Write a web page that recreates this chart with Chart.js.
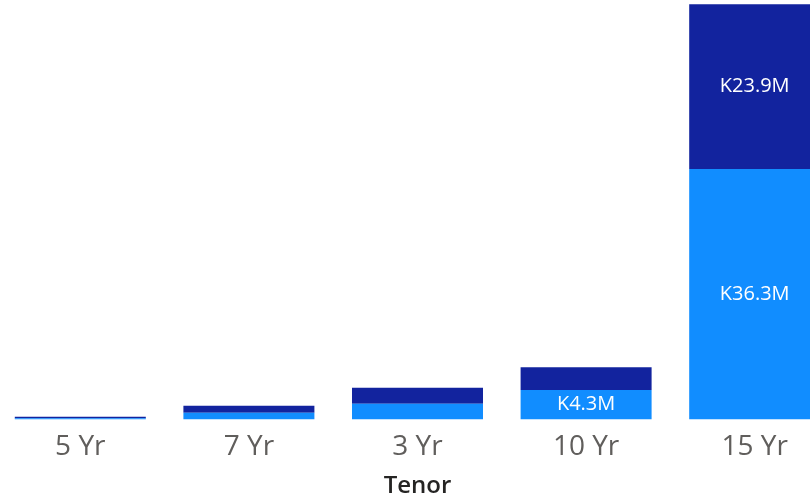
<!DOCTYPE html>
<html>
<head>
<meta charset="utf-8">
<script src="https://cdn.jsdelivr.net/npm/chart.js@4/dist/chart.umd.min.js"></script>
<style>
  html, body { margin: 0; padding: 0; background: #fff; overflow: hidden; }
  #wrap { position: absolute; left: -4px; top: 0; width: 843px; height: 498px; }
</style>
</head>
<body>
<div id="wrap"><canvas id="chart"></canvas></div>
<script>
const tenors = ['5 Yr', '7 Yr', '3 Yr', '10 Yr', '15 Yr'];
const lowerValues = [0.2, 1.0, 2.3, 4.3, 36.3];
const upperValues = [0.2, 1.0, 2.3, 3.3, 23.9];

// white labels inside segments tall enough to hold them
const segmentLabels = {
  id: 'segmentLabels',
  afterDatasetsDraw(chart) {
    const ctx = chart.ctx;
    ctx.save();
    ctx.fillStyle = '#ffffff';
    ctx.font = '20px "Open Sans", "Noto Sans", sans-serif';
    ctx.textAlign = 'center';
    ctx.textBaseline = 'middle';
    chart.data.datasets.forEach((ds, i) => {
      chart.getDatasetMeta(i).data.forEach((bar, j) => {
        const h = Math.abs(bar.base - bar.y);
        if (h < 26) return;
        ctx.fillText('K' + ds.data[j].toFixed(1) + 'M', bar.x, (bar.y + bar.base) / 2);
      });
    });
    ctx.restore();
  }
};

new Chart(document.getElementById('chart'), {
  type: 'bar',
  data: {
    labels: tenors,
    datasets: [
      { label: 'Lower', data: lowerValues, backgroundColor: '#118DFF' },
      { label: 'Upper', data: upperValues, backgroundColor: '#12239E' }
    ]
  },
  options: {
    responsive: true,
    maintainAspectRatio: false,
    animation: false,
    categoryPercentage: 1,
    barPercentage: 0.777,
    layout: { padding: 0 },
    plugins: { legend: { display: false }, tooltip: { enabled: false } },
    scales: {
      x: {
        stacked: true,
        grid: { display: false, drawTicks: false },
        border: { display: false },
        ticks: {
          color: '#605E5C',
          padding: 11,
          font: { family: '"Open Sans", "Noto Sans", sans-serif', size: 28 }
        },
        title: {
          display: true,
          text: 'Tenor',
          color: '#252423',
          padding: { top: -3, bottom: -3 },
          font: { family: '"Open Sans", "Noto Sans", sans-serif', size: 24, weight: '600' }
        }
      },
      y: {
        stacked: true,
        display: false,
        min: 0,
        max: 60.8
      }
    }
  },
  plugins: [segmentLabels]
});
</script>
</body>
</html>
